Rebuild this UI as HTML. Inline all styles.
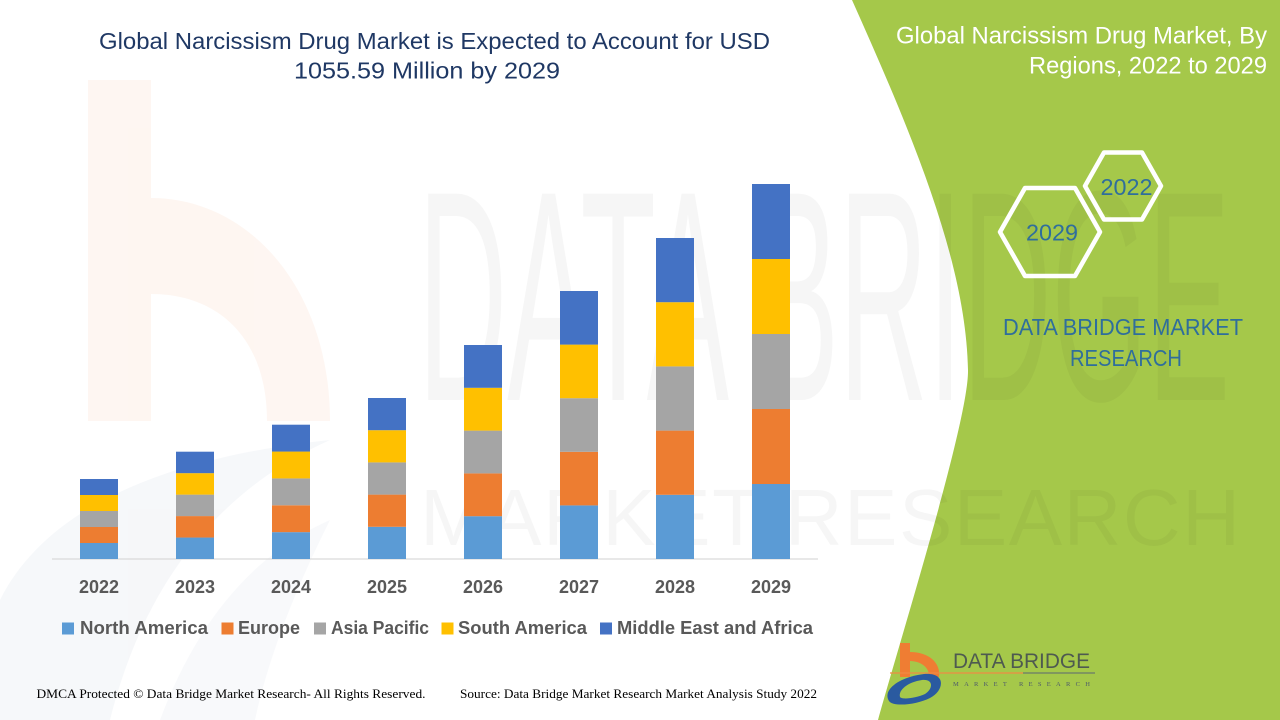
<!DOCTYPE html>
<html>
<head>
<meta charset="utf-8">
<style>
  html, body { margin:0; padding:0; background:#ffffff; }
  body { width:1280px; height:720px; overflow:hidden; }
  svg { display:block; }
  .sans { font-family:"Liberation Sans", Arial, sans-serif; }
  .serif { font-family:"Liberation Serif", "Times New Roman", serif; }
</style>
</head>
<body>
<svg width="1280" height="720" viewBox="0 0 1280 720" xmlns="http://www.w3.org/2000/svg">
  <rect x="0" y="0" width="1280" height="720" fill="#ffffff"/>

  <!-- faint background watermark: logo b on left -->
  <g opacity="0.35">
    <rect x="88" y="80" width="63" height="341" fill="#fde6da"/>
    <path d="M151,198 C250,198 330,290 330,421 L267,421 C267,340 220,294 151,294 Z" fill="#fde6da"/>
  </g>
  <!-- faint blue-gray swoosh lower-left -->
  <g opacity="0.35">
    <path d="M0,720 L0,600 C40,520 140,460 330,440 C240,480 150,560 110,720 Z" fill="#e6eaf0"/>
    <path d="M160,720 C190,640 240,560 330,520 C300,580 270,650 255,720 Z" fill="#eceff4"/>
  </g>

  <!-- green right panel -->
  <path d="M852,0 C910,130 966,260 968,370 C969,420 900,640 878,720 L1280,720 L1280,0 Z" fill="#a5c84a"/>

  <!-- faint big watermark text -->
  <g class="sans" fill="#000000" opacity="0.03">
    <text x="418" y="0" font-size="150" textLength="812" lengthAdjust="spacingAndGlyphs" transform="translate(0,400) scale(1,2)">DATA BRIDGE</text>
    <text x="420" y="545" font-size="80" textLength="820" lengthAdjust="spacing">MARKET RESEARCH</text>
  </g>

  <!-- title -->
  <g class="sans" fill="#1f3864" font-size="23">
    <text x="99" y="49" textLength="671" lengthAdjust="spacingAndGlyphs">Global Narcissism Drug Market is Expected to Account for USD</text>
    <text x="294" y="78.5" textLength="266" lengthAdjust="spacingAndGlyphs">1055.59 Million by 2029</text>
  </g>

  <!-- axis -->
  <line x1="52" y1="559" x2="818" y2="559" stroke="#d9d9d9" stroke-width="1.2"/>

  <!-- bars -->
  <g>
    <rect x="80" y="543" width="38" height="16" fill="#5b9bd5"/>
    <rect x="80" y="527" width="38" height="16" fill="#ed7d31"/>
    <rect x="80" y="511" width="38" height="16" fill="#a5a5a5"/>
    <rect x="80" y="495" width="38" height="16" fill="#ffc000"/>
    <rect x="80" y="479" width="38" height="16" fill="#4472c4"/>

    <rect x="176" y="537.54" width="38" height="21.46" fill="#5b9bd5"/>
    <rect x="176" y="516.08" width="38" height="21.46" fill="#ed7d31"/>
    <rect x="176" y="494.62" width="38" height="21.46" fill="#a5a5a5"/>
    <rect x="176" y="473.16" width="38" height="21.46" fill="#ffc000"/>
    <rect x="176" y="451.7" width="38" height="21.46" fill="#4472c4"/>

    <rect x="272" y="532.14" width="38" height="26.86" fill="#5b9bd5"/>
    <rect x="272" y="505.28" width="38" height="26.86" fill="#ed7d31"/>
    <rect x="272" y="478.42" width="38" height="26.86" fill="#a5a5a5"/>
    <rect x="272" y="451.56" width="38" height="26.86" fill="#ffc000"/>
    <rect x="272" y="424.7" width="38" height="26.86" fill="#4472c4"/>

    <rect x="368" y="526.8" width="38" height="32.2" fill="#5b9bd5"/>
    <rect x="368" y="494.6" width="38" height="32.2" fill="#ed7d31"/>
    <rect x="368" y="462.4" width="38" height="32.2" fill="#a5a5a5"/>
    <rect x="368" y="430.2" width="38" height="32.2" fill="#ffc000"/>
    <rect x="368" y="398" width="38" height="32.2" fill="#4472c4"/>

    <rect x="464" y="516.2" width="38" height="42.8" fill="#5b9bd5"/>
    <rect x="464" y="473.4" width="38" height="42.8" fill="#ed7d31"/>
    <rect x="464" y="430.6" width="38" height="42.8" fill="#a5a5a5"/>
    <rect x="464" y="387.8" width="38" height="42.8" fill="#ffc000"/>
    <rect x="464" y="345" width="38" height="42.8" fill="#4472c4"/>

    <rect x="560" y="505.4" width="38" height="53.6" fill="#5b9bd5"/>
    <rect x="560" y="451.8" width="38" height="53.6" fill="#ed7d31"/>
    <rect x="560" y="398.2" width="38" height="53.6" fill="#a5a5a5"/>
    <rect x="560" y="344.6" width="38" height="53.6" fill="#ffc000"/>
    <rect x="560" y="291" width="38" height="53.6" fill="#4472c4"/>

    <rect x="656" y="494.8" width="38" height="64.2" fill="#5b9bd5"/>
    <rect x="656" y="430.6" width="38" height="64.2" fill="#ed7d31"/>
    <rect x="656" y="366.4" width="38" height="64.2" fill="#a5a5a5"/>
    <rect x="656" y="302.2" width="38" height="64.2" fill="#ffc000"/>
    <rect x="656" y="238" width="38" height="64.2" fill="#4472c4"/>

    <rect x="752" y="484" width="38" height="75" fill="#5b9bd5"/>
    <rect x="752" y="409" width="38" height="75" fill="#ed7d31"/>
    <rect x="752" y="334" width="38" height="75" fill="#a5a5a5"/>
    <rect x="752" y="259" width="38" height="75" fill="#ffc000"/>
    <rect x="752" y="184" width="38" height="75" fill="#4472c4"/>
  </g>

  <!-- year labels -->
  <g class="sans" fill="#595959" font-size="18" font-weight="bold" text-anchor="middle">
    <text x="99" y="593">2022</text>
    <text x="195" y="593">2023</text>
    <text x="291" y="593">2024</text>
    <text x="387" y="593">2025</text>
    <text x="483" y="593">2026</text>
    <text x="579" y="593">2027</text>
    <text x="675" y="593">2028</text>
    <text x="771" y="593">2029</text>
  </g>

  <!-- legend -->
  <g class="sans" fill="#595959" font-size="18" font-weight="bold">
    <rect x="62" y="622.5" width="12" height="12" fill="#5b9bd5"/>
    <text x="80" y="634" textLength="128" lengthAdjust="spacingAndGlyphs">North America</text>
    <rect x="221.5" y="622.5" width="12" height="12" fill="#ed7d31"/>
    <text x="238" y="634" textLength="62" lengthAdjust="spacingAndGlyphs">Europe</text>
    <rect x="314" y="622.5" width="12" height="12" fill="#a5a5a5"/>
    <text x="331" y="634" textLength="98" lengthAdjust="spacingAndGlyphs">Asia Pacific</text>
    <rect x="441.5" y="622.5" width="12" height="12" fill="#ffc000"/>
    <text x="458" y="634" textLength="129" lengthAdjust="spacingAndGlyphs">South America</text>
    <rect x="600" y="622.5" width="12" height="12" fill="#4472c4"/>
    <text x="617" y="634" textLength="196" lengthAdjust="spacingAndGlyphs">Middle East and Africa</text>
  </g>

  <!-- footer -->
  <g class="serif" fill="#000000" font-size="13">
    <text x="36.5" y="698" textLength="389" lengthAdjust="spacingAndGlyphs">DMCA Protected © Data Bridge Market Research- All Rights Reserved.</text>
    <text x="460" y="698" textLength="357" lengthAdjust="spacingAndGlyphs">Source: Data Bridge Market Research Market Analysis Study 2022</text>
  </g>

  <!-- right panel title -->
  <g class="sans" fill="#ffffff" font-size="24">
    <text x="896" y="43.5" textLength="371" lengthAdjust="spacingAndGlyphs">Global Narcissism Drug Market, By</text>
    <text x="1029" y="73.5" textLength="238" lengthAdjust="spacingAndGlyphs">Regions, 2022 to 2029</text>
  </g>

  <!-- hexagons -->
  <g fill="none" stroke="#ffffff" stroke-width="4.5" stroke-linejoin="round">
    <path d="M1085,186 L1104,152.5 L1142,152.5 L1161,186 L1142,219.5 L1104,219.5 Z"/>
    <path d="M1000,232 L1025,188 L1075,188 L1100,232 L1075,276 L1025,276 Z"/>
  </g>
  <g class="sans" fill="#2f6e9c" font-size="23">
    <text x="1100.5" y="195" textLength="52" lengthAdjust="spacingAndGlyphs">2022</text>
    <text x="1026" y="240.5" textLength="52" lengthAdjust="spacingAndGlyphs">2029</text>
    <text x="1003" y="335" textLength="240" lengthAdjust="spacingAndGlyphs">DATA BRIDGE MARKET</text>
    <text x="1070" y="366" textLength="112" lengthAdjust="spacingAndGlyphs">RESEARCH</text>
  </g>

  <!-- bottom-right logo -->
  <g>
    <rect x="900" y="643" width="10" height="34" fill="#ef7d33"/>
    <path d="M910,652 C929,652 941,663 939,677 L929,677 C930,668 921,661 910,661 Z" fill="#ef7d33"/>
    <line x1="890" y1="673" x2="1023" y2="673" stroke="#ef8a45" stroke-width="1.2"/>
    <line x1="1023" y1="673" x2="1095" y2="673" stroke="#6b7a6a" stroke-width="1.2"/>
    <path d="M889,701 C882,690 899,677 924,674 C946,672 945,690 930,698 C916,705 893,707 889,701 Z" fill="#2a5aa0"/>
    <path d="M900,697 C898,690 908,682 922,680 C934,679 933,689 925,694 C916,698 902,700 900,697 Z" fill="#a5c84a"/>
    <text class="sans" x="953" y="668" font-size="21" fill="#4e5a50" textLength="137" lengthAdjust="spacingAndGlyphs">DATA BRIDGE</text>
    <text class="serif" x="953" y="686" font-size="6.5" fill="#4e5a6a" textLength="137" lengthAdjust="spacing">MARKET   RESEARCH</text>
  </g>
</svg>
</body>
</html>
